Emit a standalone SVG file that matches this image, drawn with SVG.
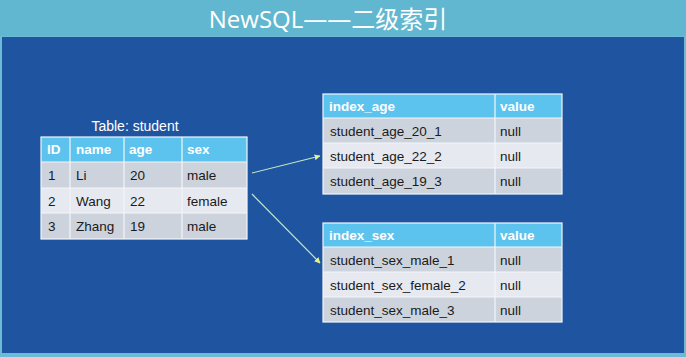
<svg xmlns="http://www.w3.org/2000/svg" width="686" height="357" viewBox="0 0 686 357">
<defs>
<style>
.hdr{fill:#5cc3ee}
.r1{fill:#cdd3dd}
.r2{fill:#e6e9ef}
.grid{stroke:#f4f6f9;stroke-width:1.2;fill:none}
.ht{font-family:"Liberation Sans",Arial,sans-serif;font-size:13.5px;font-weight:bold;fill:#ffffff}
.ct{font-family:"Liberation Sans",Arial,sans-serif;font-size:13.5px;fill:#1a1a1a}
.cap{font-family:"Liberation Sans",Arial,sans-serif;font-size:14px;fill:#ffffff}
.title{font-family:"Open Sans","Noto Sans CJK SC",sans-serif;font-size:24px;fill:#ffffff}
.conn{stroke:#c4e6c8;stroke-width:1.2;fill:none}
</style>
<marker id="ah" viewBox="0 0 10 10" refX="9" refY="5" markerWidth="6" markerHeight="6" orient="auto" markerUnits="userSpaceOnUse">
<path d="M0,0 L10,5 L0,10 z" fill="#e4f08c"/>
</marker>
</defs>
<rect x="0" y="0" width="686" height="357" fill="#6bbbd6"/>
<rect x="2" y="37" width="682" height="316" fill="#1f55a0"/>
<rect x="0" y="0" width="686" height="36" fill="#62b7d0"/>
<text class="title" x="328" y="28" text-anchor="middle">NewSQL——二级索引</text>

<g id="student">
<text class="cap" x="135" y="131" text-anchor="middle">Table: student</text>
<rect class="hdr" x="41" y="137" width="206" height="25"/>
<rect class="r1" x="41" y="162" width="206" height="26"/>
<rect class="r2" x="41" y="188" width="206" height="25"/>
<rect class="r1" x="41" y="213" width="206" height="26"/>
<rect class="grid" x="41" y="137" width="206" height="102"/>
<path class="grid" d="M41,162H247M41,188H247M41,213H247M70,137V239M124,137V239M182,137V239"/>
<text class="ht" x="47" y="154">ID</text>
<text class="ht" x="76" y="154">name</text>
<text class="ht" x="129" y="154">age</text>
<text class="ht" x="187" y="154">sex</text>
<text class="ct" x="48" y="180">1</text>
<text class="ct" x="76" y="180">Li</text>
<text class="ct" x="130" y="180">20</text>
<text class="ct" x="187" y="180">male</text>
<text class="ct" x="48" y="206">2</text>
<text class="ct" x="76" y="206">Wang</text>
<text class="ct" x="130" y="206">22</text>
<text class="ct" x="187" y="206">female</text>
<text class="ct" x="48" y="231">3</text>
<text class="ct" x="76" y="231">Zhang</text>
<text class="ct" x="130" y="231">19</text>
<text class="ct" x="187" y="231">male</text>
</g>

<g id="index_age">
<rect class="hdr" x="323" y="94" width="239" height="24"/>
<rect class="r1" x="323" y="118" width="239" height="25"/>
<rect class="r2" x="323" y="143" width="239" height="25"/>
<rect class="r1" x="323" y="168" width="239" height="26"/>
<rect class="grid" x="323" y="94" width="239" height="100"/>
<path class="grid" d="M323,118H562M323,143H562M323,168H562M495,94V194"/>
<text class="ht" x="329" y="111">index_age</text>
<text class="ht" x="500" y="111">value</text>
<text class="ct" x="330" y="136">student_age_20_1</text>
<text class="ct" x="500" y="136">null</text>
<text class="ct" x="330" y="161">student_age_22_2</text>
<text class="ct" x="500" y="161">null</text>
<text class="ct" x="330" y="186">student_age_19_3</text>
<text class="ct" x="500" y="186">null</text>
</g>

<g id="index_sex">
<rect class="hdr" x="323" y="223" width="239" height="24"/>
<rect class="r1" x="323" y="247" width="239" height="25"/>
<rect class="r2" x="323" y="272" width="239" height="25"/>
<rect class="r1" x="323" y="297" width="239" height="25"/>
<rect class="grid" x="323" y="223" width="239" height="99"/>
<path class="grid" d="M323,247H562M323,272H562M323,297H562M495,223V322"/>
<text class="ht" x="329" y="240">index_sex</text>
<text class="ht" x="500" y="240">value</text>
<text class="ct" x="330" y="265">student_sex_male_1</text>
<text class="ct" x="500" y="265">null</text>
<text class="ct" x="330" y="290">student_sex_female_2</text>
<text class="ct" x="500" y="290">null</text>
<text class="ct" x="330" y="315">student_sex_male_3</text>
<text class="ct" x="500" y="315">null</text>
</g>

<g id="connectors">
<line class="conn" x1="252" y1="173" x2="320" y2="156" marker-end="url(#ah)"/>
<line class="conn" x1="252" y1="194" x2="320" y2="263" marker-end="url(#ah)"/>
</g>
</svg>
